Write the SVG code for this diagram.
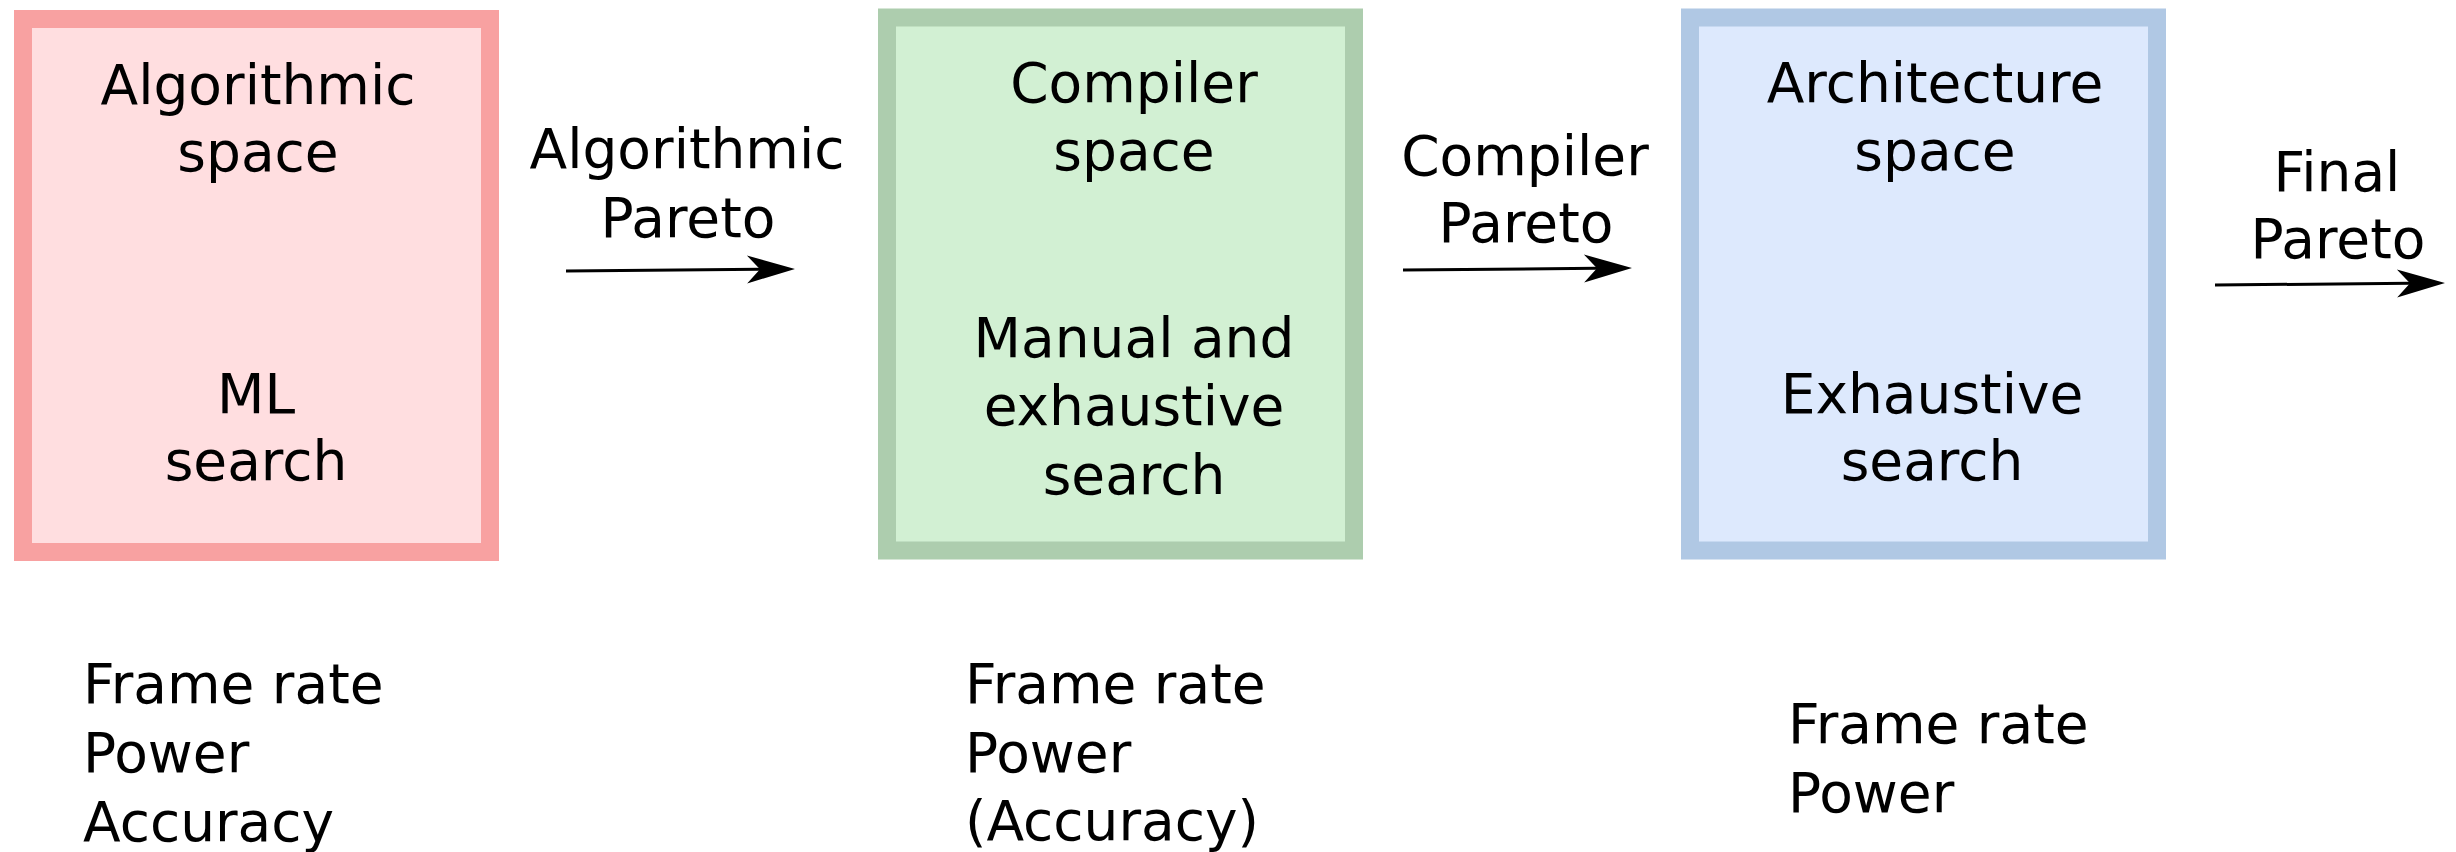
<svg xmlns="http://www.w3.org/2000/svg" width="2456" height="852" viewBox="0 0 2456 852">
  <style>
    text { font-family: "DejaVu Sans", "Noto Sans", sans-serif; font-size: 55px; fill: #000; }
    .c { text-anchor: middle; }
    .box { stroke-width: 18; }
    .alg { fill: #ffdee0; stroke: #f8a1a1; }
    .cmp { fill: #d2f0d3; stroke: #adcdae; }
    .arc { fill: #dde9fd; stroke: #b0c8e4; }
    .conn { stroke: #000; stroke-width: 3; fill: none; marker-end: url(#head); }
  </style>
  <defs>
    <!-- notched arrowhead; origin sits at the notch where the shaft ends -->
    <marker id="head" markerUnits="userSpaceOnUse" markerWidth="60" markerHeight="40" viewBox="-15 -20 60 40" refX="0" refY="0" orient="auto" overflow="visible">
      <path d="M35,0 L-13,-14 L0,0 L-13,14 Z" fill="#000"/>
    </marker>
  </defs>

  <rect width="2456" height="852" fill="#fff"/>

  <g id="algorithmic-space">
    <rect class="box alg" x="23" y="19" width="467" height="533"/>
    <text class="c" x="258" y="104">Algorithmic</text>
    <text class="c" x="258" y="171">space</text>
    <text class="c" x="256" y="413">ML</text>
    <text class="c" x="256" y="480">search</text>
  </g>

  <g id="compiler-space">
    <rect class="box cmp" x="887" y="17.5" width="467" height="533"/>
    <text class="c" x="1134" y="102">Compiler</text>
    <text class="c" x="1134" y="170">space</text>
    <text class="c" x="1134" y="357">Manual and</text>
    <text class="c" x="1134" y="425">exhaustive</text>
    <text class="c" x="1134" y="494">search</text>
  </g>

  <g id="architecture-space">
    <rect class="box arc" x="1690" y="17.5" width="467" height="533"/>
    <text class="c" x="1935" y="102">Architecture</text>
    <text class="c" x="1935" y="170">space</text>
    <text class="c" x="1932" y="413">Exhaustive</text>
    <text class="c" x="1932" y="480">search</text>
  </g>

  <g id="connectors">
    <line class="conn" x1="566" y1="271" x2="760" y2="269.3"/>
    <line class="conn" x1="1403" y1="270" x2="1597" y2="268.3"/>
    <line class="conn" x1="2215" y1="285" x2="2410" y2="283.3"/>
  </g>

  <g id="connector-labels">
    <text class="c" x="687" y="168">Algorithmic</text>
    <text class="c" x="688" y="237">Pareto</text>
    <text class="c" x="1525" y="175">Compiler</text>
    <text class="c" x="1526" y="242">Pareto</text>
    <text class="c" x="2337" y="191">Final</text>
    <text class="c" x="2338" y="258">Pareto</text>
  </g>

  <g id="metrics-algorithmic">
    <text x="83" y="703">Frame rate</text>
    <text x="83" y="772">Power</text>
    <text x="83" y="841">Accuracy</text>
  </g>

  <g id="metrics-compiler">
    <text x="965" y="703">Frame rate</text>
    <text x="965" y="772">Power</text>
    <text x="965" y="840">(Accuracy)</text>
  </g>

  <g id="metrics-architecture">
    <text x="1788" y="743">Frame rate</text>
    <text x="1788" y="812">Power</text>
  </g>
</svg>
